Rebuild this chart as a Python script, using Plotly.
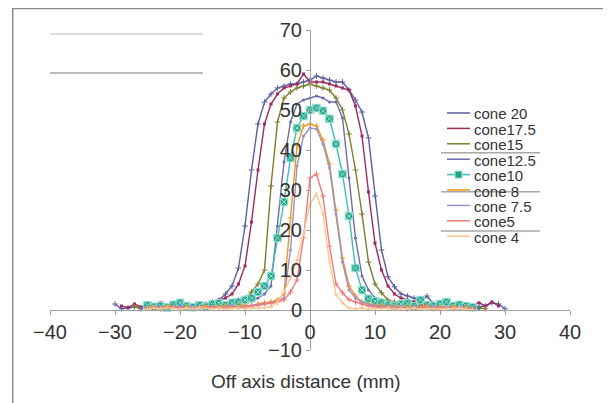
import plotly.graph_objects as go

# ---- data (off-axis distance in mm, dose profile values) ----
x_c20 = list(range(-30, 31))
cone20 = [1.5, 0.3, 0.5, 0.8, 0.3, 1.5, 0.6, 0.9, 0.5, 1.2,
          0.6, 0.8, 1.0, 1.3, 1.5, 2.0, 2.5, 4.0, 6.0, 10.5,
          21, 35, 46.5, 52, 54, 55.5, 56, 56.5, 56.5, 57,
          57.5, 58.5, 58, 57.5, 57, 57, 55, 52.5, 49.5, 43,
          28.5, 15, 8.3, 5.8, 4, 3.5, 3, 2, 3.5, 1.5,
          1, 0.8, 1, 0.5, 0.8, 0.4, 0.8, 1, 1.8, 1.5, 0.3]
x_c175 = list(range(-29, 30))
cone175 = [1.0, 0.6, 1.5, 0.8, 0.5, 1.0, 1.8, 0.7, 1.0, 0.5,
           0.8, 0.6, 1.0, 1.2, 1.8, 2.5, 3.0, 4.0, 6.5, 11,
           22, 35, 46.5, 51.5, 54, 55.5, 56, 56.5, 59, 57,
           57, 57, 56.5, 56, 55.5, 55, 51, 43.5, 29.5, 16.7,
           10, 6, 4, 3, 2.5, 2, 1.5, 1.2, 1.5, 1,
           0.6, 1, 0.5, 0.8, 1.2, 1.8, 1.0, 2.0, 1.0]
x_c15 = list(range(-27, 28))
cone15 = [0.8, 0.5, 1.0, 0.4, 0.8, 0.5, 0.7, 0.4, 0.8, 0.6,
          0.7, 0.9, 1.0, 1.2, 1.5, 2.0, 2.5, 3.0, 4.5, 6.5,
          10, 31, 47, 53, 54.5, 55.5, 56, 56.5, 56, 55.5,
          55, 53, 50, 44, 35, 24, 12, 6.5, 4.3, 2.5,
          2, 1.5, 1.2, 1.0, 0.8, 1.0, 0.6, 0.8, 0.5, 0.7,
          0.4, 0.6, 0.8, 0.5, 0.3]
x_c125 = list(range(-26, 27))
cone125 = [0.5, 0.8, 0.4, 0.6, 1.0, 0.5, 0.8, 0.4, 0.7, 0.9,
           0.6, 1.0, 0.8, 1.2, 1.0, 1.5, 1.8, 2.2, 3, 4,
           6, 21, 37, 47, 51.5, 52.5, 53, 53.5, 53, 52, 52,
           48, 33, 18, 8.5, 5, 3, 2.5, 2, 1.5, 1.2,
           1.0, 0.8, 1.2, 0.6, 0.9, 0.5, 0.8, 0.4, 0.7, 0.5,
           0.8, 0.3]
x_small = list(range(-25, 26))
cone10 = [1.2, 0.8, 1.0, 0.6, 1.3, 1.8, 1.0, 0.7, 1.2, 0.8,
          1.4, 1.7, 1.2, 1.8, 2.0, 2.5, 3, 4.5, 6, 8.5,
          18, 27, 38, 45.5, 48.5, 50, 50.5, 49.8, 47.8, 41.5,
          34, 23.5, 10.5, 5, 2.8, 2.2, 1.8, 1.3, 1.0, 1.5,
          1.7, 0.9, 2.5, 1.2, 1.0, 1.5, 2.0, 1.0, 1.3, 1.0, 0.7]
cone8 = [0.5, 0.8, 0.3, 1.0, 0.6, 0.4, 0.9, 0.5, 0.7, 1.0,
         0.6, 0.8, 1.1, 0.7, 1.0, 1.2, 1.0, 1.5, 1.8, 2.0,
         2.5, 4, 23, 41, 46, 46.5, 46, 42.5, 36.5, 25,
         13, 6, 3.5, 2, 1.5, 1.0, 1.2, 0.8, 1.0, 0.6,
         0.9, 0.5, 0.8, 1.0, 0.6, 0.8, 0.4, 0.9, 0.5, 0.7, 0.4]
cone75 = [0.3, 0.6, 0.9, 0.4, 0.7, 1.0, 0.5, 0.8, 0.4, 0.7,
          0.9, 0.5, 0.8, 1.0, 0.7, 0.9, 1.1, 1.3, 1.5, 1.8,
          2.2, 3, 15, 36, 43.5, 45.5, 45.3, 41.5, 35.5, 24,
          12, 5, 3, 2, 1.4, 1.0, 0.8, 1.1, 0.6, 0.9,
          0.5, 0.8, 0.4, 0.7, 1.0, 0.5, 0.8, 0.4, 0.7, 0.5, 0.3]
cone5 = [0.4, 0.7, 0.3, 0.6, 0.9, 0.4, 0.6, 0.3, 0.7, 0.5,
         0.8, 0.4, 0.6, 0.9, 0.5, 0.8, 1.0, 1.2, 1.5, 1.7,
         2.0, 2.5, 4.5, 7.5, 18, 33, 34, 28.5, 16, 6.5,
         4.3, 2.6, 2, 1.5, 1.0, 0.8, 0.5, 0.7, 0.4, 0.6,
         0.3, 0.6, 0.4, 0.7, 0.3, 0.5, 0.6, 0.3, 0.5, 0.4, 0.2]
cone4 = [0.2, 0.5, 0.3, 0.6, 0.4, 0.2, 0.5, 0.3, 0.6, 0.4,
         0.3, 0.5, 0.2, 0.4, 0.6, 0.3, 0.5, 0.4, 0.6, 0.8,
         2, 4.5, 8, 12.5, 19, 26.5, 29, 24, 12, 3.8,
         1.8, 0.5, 0.3, 0.5, 0.2, 0.4, 0.3, 0.5, 0.2, 0.4,
         0.3, 0.5, 0.2, 0.4, 0.3, 0.2, 0.4, 0.3, 0.5, 0.2, 0.1]

names = ["cone 20", "cone17.5", "cone15", "cone12.5", "cone10",
         "cone 8", "cone 7.5", "cone5", "cone 4"]
xs = [x_c20, x_c175, x_c15, x_c125, x_small, x_small, x_small, x_small, x_small]
ys = [cone20, cone175, cone15, cone125, cone10, cone8, cone75, cone5, cone4]
x_ticks = [-40, -30, -20, -10, 0, 10, 20, 30, 40]
y_ticks = [-10, 0, 10, 20, 30, 40, 50, 60, 70]
x_title = "Off axis distance (mm)"

# ---- styles ----
colors = ["#5c5ea0", "#9c2b5e", "#7d7d2c", "#6c6ca8", "#3cc0b0",
          "#f7941d", "#9494cc", "#f07a7a", "#fcc48e"]
symbols = ["cross-thin", "square", "cross-thin", "circle", "square-x",
           "cross-thin", "circle", "cross-thin", "cross-thin"]
msizes = [4, 3, 4, 3, 7, 4, 3, 4, 3]
FONT = "Liberation Sans, Arial, Helvetica, sans-serif"
TXT = "#333333"

# The page is shown with an 8 px body offset; positions below are in screen pixels.
W, H = 611, 403
OFF = 8
ML, MR, MT, MB = 42, 49, 22, 61
PW, PH = W - ML - MR, H - MT - MB


def px(x):
    return (x - OFF - ML) / PW


def py(y):
    return (H - MB - (y - OFF)) / PH


fig = go.Figure()
for i in range(len(names)):
    if names[i] == "cone10":
        marker = dict(symbol="square-x", size=7.5, color="#22a38a",
                      line=dict(color="#9be3d5", width=1))
    elif symbols[i] == "cross-thin":
        marker = dict(symbol="cross-thin", size=msizes[i], color=colors[i],
                      line=dict(color=colors[i], width=1))
    else:
        marker = dict(symbol=symbols[i], size=msizes[i], color=colors[i])
    fig.add_trace(go.Scatter(x=xs[i], y=ys[i], name=names[i], mode="lines+markers",
                             line=dict(color=colors[i], width=1.4),
                             marker=marker, showlegend=False))

shapes = []
annotations = []
# frame
fc = "#8a8a8a"
shapes.append(dict(type="line", xref="paper", yref="paper", x0=px(12.7), x1=px(12.7),
                   y0=py(8.5), y1=py(430), line=dict(color=fc, width=1.5)))
shapes.append(dict(type="line", xref="paper", yref="paper", x0=px(12), x1=px(609.5),
                   y0=py(8.6), y1=py(8.6), line=dict(color=fc, width=1.5)))
shapes.append(dict(type="line", xref="paper", yref="paper", x0=px(609), x1=px(609),
                   y0=py(8.5), y1=py(430), line=dict(color=fc, width=1.5)))
# stray grey lines
shapes.append(dict(type="line", xref="paper", yref="paper", x0=px(50), x1=px(203),
                   y0=py(34), y1=py(34), line=dict(color="#d0d0d0", width=1.5)))
shapes.append(dict(type="line", xref="paper", yref="paper", x0=px(50), x1=px(203),
                   y0=py(73), y1=py(73), line=dict(color="#a5a5a5", width=1.5)))
for gy in [152.7, 191.7, 231]:
    shapes.append(dict(type="line", xref="paper", yref="paper", x0=px(441), x1=px(540),
                       y0=py(gy), y1=py(gy), line=dict(color="#a8a8a8", width=1.5)))

# custom legend
leg_y0, leg_dy = 113, 15.4
for i, nm in enumerate(names):
    yy = leg_y0 + i * leg_dy
    shapes.append(dict(type="line", xref="paper", yref="paper", x0=px(447), x1=px(470),
                       y0=py(yy), y1=py(yy), line=dict(color=colors[i], width=1.5)))
    if nm == "cone10":
        shapes.append(dict(type="rect", xref="paper", yref="paper",
                           x0=px(455), x1=px(462), y0=py(yy - 3.5), y1=py(yy + 3.5),
                           fillcolor="#22a38a", line=dict(color="#9be3d5", width=1)))
    annotations.append(dict(text=nm, xref="paper", yref="paper", x=px(472), y=py(yy + 1),
                            xanchor="left", yanchor="middle", showarrow=False,
                            font=dict(family=FONT, size=15, color=TXT)))

annotations.append(dict(text=x_title, xref="paper", yref="paper", x=px(306), y=py(381),
                        xanchor="center", yanchor="middle", showarrow=False,
                        font=dict(family=FONT, size=19, color=TXT)))

fig.update_layout(
    width=W, height=H,
    margin=dict(l=ML, r=MR, t=MT, b=MB),
    paper_bgcolor="white", plot_bgcolor="white",
    shapes=shapes, annotations=annotations,
    showlegend=False,
    font=dict(family=FONT, color=TXT),
    xaxis=dict(range=[-40, 40], tickvals=x_ticks, showgrid=False, zeroline=False,
               anchor="free", position=py(310), showline=True, linecolor="#a0a0a0",
               linewidth=1, ticks="outside", ticklen=4, tickcolor="#a0a0a0",
               tickfont=dict(family=FONT, size=20, color=TXT)),
    yaxis=dict(range=[-10, 70], tickvals=y_ticks, showgrid=False, zeroline=False,
               anchor="free", position=px(310), showline=True, linecolor="#a0a0a0",
               linewidth=1, ticks="outside", ticklen=4, tickcolor="#a0a0a0",
               tickfont=dict(family=FONT, size=20, color=TXT)),
)

fig.write_html("out.html")
